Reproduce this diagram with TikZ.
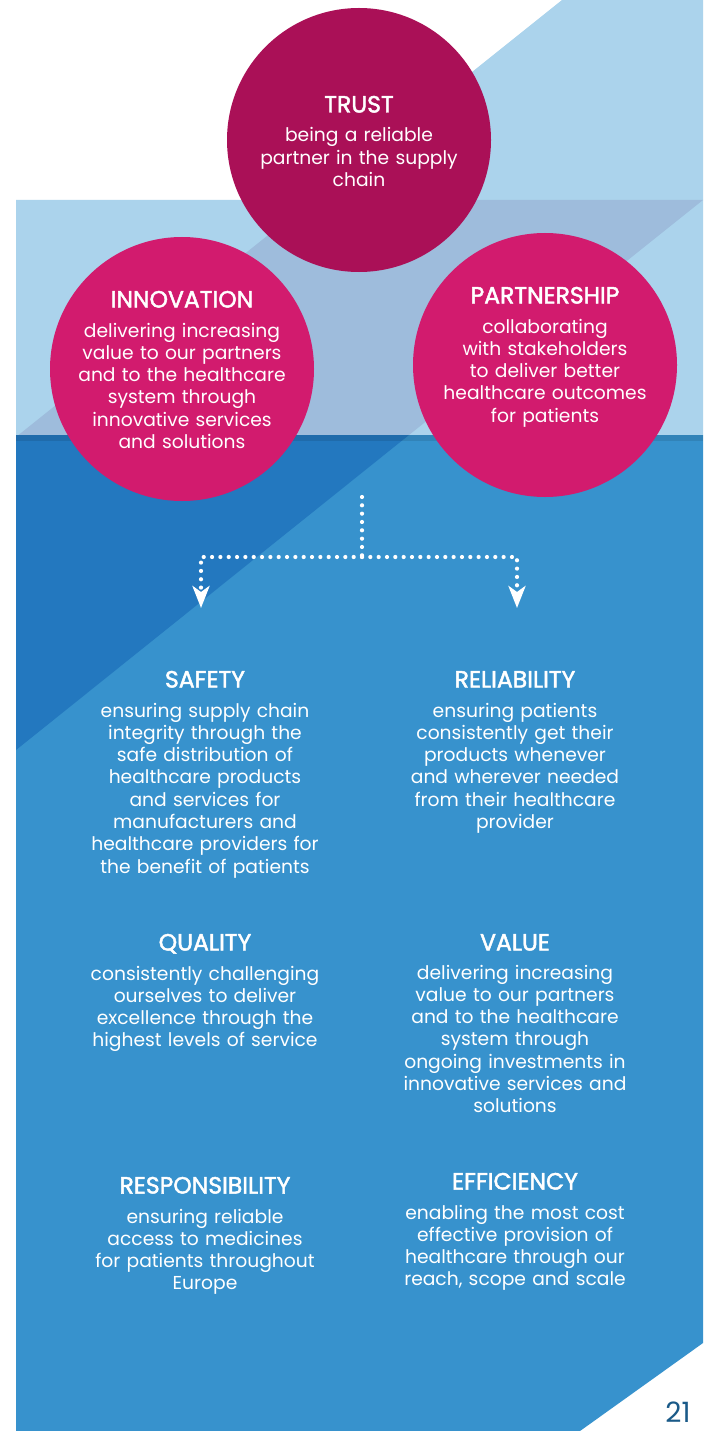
\documentclass[tikz,border=0pt]{standalone}
\usepackage{fontspec}
\setmainfont{Poppins}
\newfontfamily\titlefont{Poppins}[FakeBold=2]
\usetikzlibrary{arrows.meta}
\definecolor{lightblue}{HTML}{ABD3EC}
\definecolor{midblue}{HTML}{9EBCDC}
\definecolor{darkblue}{HTML}{2378BF}
\definecolor{mainblue}{HTML}{3792CD}
\definecolor{trustred}{HTML}{AA1057}
\definecolor{pink}{HTML}{D21B6E}
\definecolor{pagecol}{HTML}{1A5A88}
\tikzset{
  bubble/.style={circle, minimum size=264pt, inner sep=0pt},
  titletext/.style={font=\titlefont\fontsize{23.5}{26}\selectfont, text=white, anchor=base, inner sep=0pt},
  bodytext/.style={font=\fontsize{18.7}{22.3}\selectfont, text=white, anchor=base, inner sep=0pt, align=center, text width=300pt},
  dotline/.style={white, line width=4.2pt, dash pattern=on 0pt off 8.33pt, line cap=round},
  arrowed/.style={-{Stealth[length=22pt,width=17pt,inset=6pt]}}
}
\begin{document}
\begin{tikzpicture}[x=1pt,y=-1pt]
\useasboundingbox (0,0) rectangle (705,1431);
\fill[white] (0,0) rectangle (705,1431);
% backgrounds
\fill[lightblue] (562,0) -- (703,0) -- (703,435) -- (16,435) -- (16,200) -- (312,200) -- cycle;
\fill[midblue] (312,200) -- (703,200) -- (409,435) -- (16,435) -- (16,437) -- cycle;
\fill[mainblue] (16,435) -- (703,435) -- (703,1343) -- (580,1431) -- (16,1431) -- cycle;
\fill[darkblue] (16,435) -- (409,435) -- (16,750) -- cycle;
\fill[black, opacity=0.1] (16,435) rectangle (703,441);
% circles
\node[bubble, fill=trustred] (trust) at (359,140) {};
\node[bubble, fill=pink] (innov) at (182,369) {};
\node[bubble, fill=pink] (partner) at (545,365) {};
% circle texts
\node[titletext] (trustT) at (359,112.5) {TRUST};
\node[bodytext] (trustB) at (359,142) {being a reliable\\partner in the supply\\chain};
\node[titletext] (innovT) at (182,307.5) {INNOVATION};
\node[bodytext] (innovB) at (182,337) {delivering increasing\\value to our partners\\and to the healthcare\\system through\\innovative services\\and solutions};
\node[titletext] (partT) at (545,303.5) {PARTNERSHIP};
\node[bodytext] (partB) at (545,333) {collaborating\\with stakeholders\\to deliver better\\healthcare outcomes\\for patients};
% dotted connectors
\coordinate (root) at (362,497);
\coordinate (junction) at (362,557);
\coordinate (lcorner) at (201,557);
\coordinate (rcorner) at (517,557);
\coordinate (ltip) at (201,608);
\coordinate (rtip) at (517,608);
\draw[dotline] (root) -- (junction);
\draw[dotline, arrowed] (junction) -- (lcorner) -- (ltip);
\draw[dotline, arrowed] (junction) -- (rcorner) -- (rtip);
% lower blocks
\node[titletext] (safT) at (205,687.5) {SAFETY};
\node[bodytext] (safB) at (205,717) {ensuring supply chain\\integrity through the\\safe distribution of\\healthcare products\\and services for\\manufacturers and\\healthcare providers for\\the benefit of patients};
\node[titletext] (relT) at (515,687.5) {RELIABILITY};
\node[bodytext] (relB) at (515,717) {ensuring patients\\consistently get their\\products whenever\\and wherever needed\\from their healthcare\\provider};
\node[titletext] (qualT) at (205,950.5) {QUALITY};
\node[bodytext] (qualB) at (205,980) {consistently challenging\\ourselves to deliver\\excellence through the\\highest levels of service};
\node[titletext] (valT) at (515,950.5) {VALUE};
\node[bodytext] (valB) at (515,979) {delivering increasing\\value to our partners\\and to the healthcare\\system through\\ongoing investments in\\innovative services and\\solutions};
\node[titletext] (respT) at (205,1193.5) {RESPONSIBILITY};
\node[bodytext] (respB) at (205,1223) {ensuring reliable\\access to medicines\\for patients throughout\\Europe};
\node[titletext] (effT) at (515,1189.5) {EFFICIENCY};
\node[bodytext] (effB) at (515,1219) {enabling the most cost\\effective provision of\\healthcare through our\\reach, scope and scale};
% page number
\node[font=\fontsize{28}{30}\selectfont, text=pagecol, anchor=base, inner sep=0pt] (page) at (678,1422) {21};
\end{tikzpicture}
\end{document}
